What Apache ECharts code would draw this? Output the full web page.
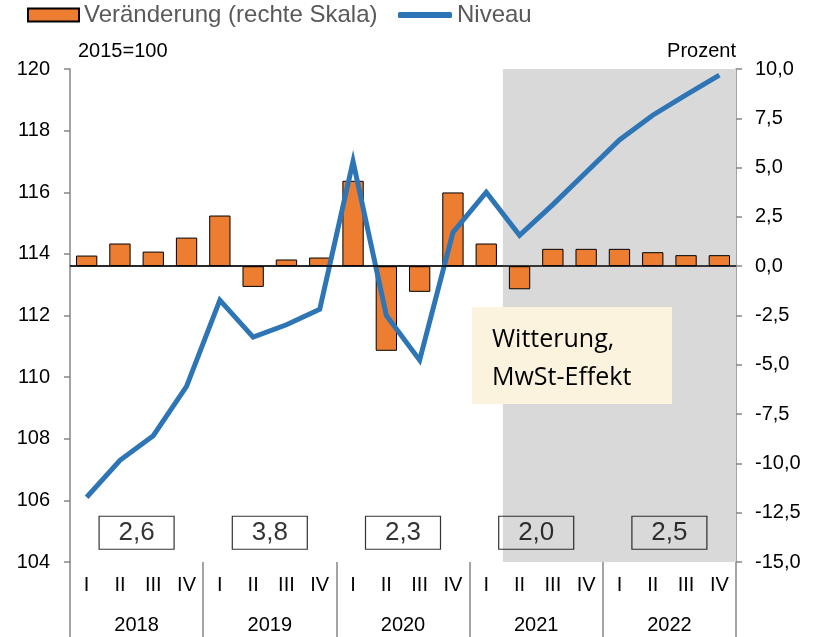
<!DOCTYPE html>
<html><head><meta charset="utf-8">
<script src="https://cdn.jsdelivr.net/npm/echarts@6/dist/echarts.min.js"></script>
<style>html,body{margin:0;padding:0;background:#fff}#c{width:813px;height:637px}</style>
</head><body><div id="c"></div>
<script>
const quarters = ['I','II','III','IV','I','II','III','IV','I','II','III','IV','I','II','III','IV','I','II','III','IV'];
const years = ['2018','2019','2020','2021','2022'];
const niveau = [106.1,107.3,108.1,109.7,112.5,111.3,111.7,112.2,117.0,112.0,110.55,114.7,116.0,114.6,115.6,116.65,117.7,118.5,119.16,119.8];
const veraenderung = [0.54,1.15,0.74,1.45,2.57,-1.05,0.34,0.44,4.33,-4.29,-1.30,3.74,1.15,-1.17,0.88,0.88,0.88,0.71,0.56,0.56];
const jahresraten = [2.6,3.8,2.3,2.0,2.5];
const leftTicks = [104,106,108,110,112,114,116,118,120];
const rightTicks = [-15,-12.5,-10,-7.5,-5,-2.5,0,2.5,5,7.5,10];
const prognoseStart = 13; // index of first shaded quarter (2021 II)

const qCats = quarters.map((q,i)=> years[Math.floor(i/4)] + '-' + q);
const FONT = '"Liberation Sans", Arial, sans-serif';
const chart = echarts.init(document.getElementById('c'), null, {renderer:'canvas'});
const fmtComma = v => v.toFixed(1).replace('.', ',').replace('-0,0','0,0');

chart.setOption({
  animation:false,
  textStyle:{fontFamily:FONT},
  grid:{left:70,right:77,top:69,bottom:75},
  legend:[{
    left:27, top:3, padding:0, itemWidth:51, itemHeight:13,
    data:[{name:'Veränderung (rechte Skala)', icon:'rect'}],
    textStyle:{fontFamily:FONT,fontSize:24,color:'#595959'}
  },{
    left:398, top:3, padding:0, itemWidth:54, itemHeight:6,
    data:[{name:'Niveau', icon:'roundRect'}],
    textStyle:{fontFamily:FONT,fontSize:24,color:'#595959'}
  }],
  xAxis:[{
    type:'category', data:qCats, position:'bottom',
    axisLine:{show:true,lineStyle:{color:'#868686',width:1.5}},
    axisTick:{show:false},
    axisLabel:{formatter:v=>v.split('-')[1],fontSize:20,color:'#000',margin:13,fontFamily:FONT}
  },{
    type:'category', data:years, position:'bottom', gridIndex:0,
    axisLine:{show:false},
    axisTick:{show:true,length:76,lineStyle:{color:'#868686',width:1.5}},
    axisLabel:{fontSize:20,color:'#000',margin:53,fontFamily:FONT}
  },{
    type:'value', min:0, max:20, show:false
  }],
  yAxis:[{
    type:'value', min:104, max:120, interval:2, position:'left',
    axisLine:{show:true,lineStyle:{color:'#868686',width:1.5}},
    axisTick:{show:true,inside:false,length:6,lineStyle:{color:'#868686',width:1.5}},
    splitLine:{show:false},
    axisLabel:{fontSize:20,color:'#000',margin:20,fontFamily:FONT},
    name:'2015=100', nameLocation:'end', nameGap:8,
    nameTextStyle:{fontSize:20,color:'#000',align:'left',padding:[0,0,0,8],fontFamily:FONT}
  },{
    type:'value', min:-15, max:10, interval:2.5, position:'right',
    axisLine:{show:true,lineStyle:{color:'#868686',width:1.5}},
    axisTick:{show:true,inside:false,length:6,lineStyle:{color:'#868686',width:1.5}},
    splitLine:{show:false},
    axisLabel:{fontSize:20,color:'#000',margin:19,formatter:fmtComma,fontFamily:FONT},
    name:'Prozent', nameLocation:'end', nameGap:8,
    nameTextStyle:{fontSize:20,color:'#000',align:'right',padding:[0,0,0,0],fontFamily:FONT}
  }],
  series:[{
    name:'prognose', type:'line', xAxisIndex:2, yAxisIndex:0, data:[], silent:true,
    markArea:{silent:true, itemStyle:{color:'#D9D9D9'},
      data:[[{xAxis:prognoseStart, yAxis:104},{xAxis:20, yAxis:120}]]}
  },{
    name:'Veränderung (rechte Skala)', type:'bar', xAxisIndex:0, yAxisIndex:1,
    data:veraenderung, barCategoryGap:'36%', z:3,
    itemStyle:{color:'#ED7D31', borderColor:'#000', borderWidth:1},
    markLine:{silent:true, symbol:'none', label:{show:false},
      lineStyle:{color:'#000',width:1.5,type:'solid'}, data:[{yAxis:0}]}
  },{
    name:'Niveau', type:'line', xAxisIndex:0, yAxisIndex:0, data:niveau,
    symbol:'none', z:4,
    itemStyle:{color:'#2E75B6'},
    lineStyle:{color:'#2E75B6',width:5, join:'miter'}
  },{
    name:'Jahresrate', type:'scatter', xAxisIndex:1, yAxisIndex:0, z:5,
    data:jahresraten.map((v,i)=>[years[i], 104.95]),
    symbolSize:0,
    label:{show:true, position:'inside', formatter:p=>fmtComma(jahresraten[p.dataIndex]),
      fontSize:26, color:'#000', borderColor:'#000', borderWidth:1.2,
      width:75, height:33, align:'center', verticalAlign:'middle', lineHeight:33, fontFamily:FONT}
  }],
  graphic:[{
    type:'group', left:472, top:307, z:100,
    children:[
      {type:'rect', z:100, shape:{x:0,y:0,width:200,height:97}, style:{fill:'#FBF3DD'}},
      {type:'text', z:101, x:20, y:14, style:{text:'Witterung,\nMwSt-Effekt', font:'25px "Open Sans", "Noto Sans", sans-serif', fill:'#000', lineHeight:38}}
    ]
  }]
});
</script></body></html>
